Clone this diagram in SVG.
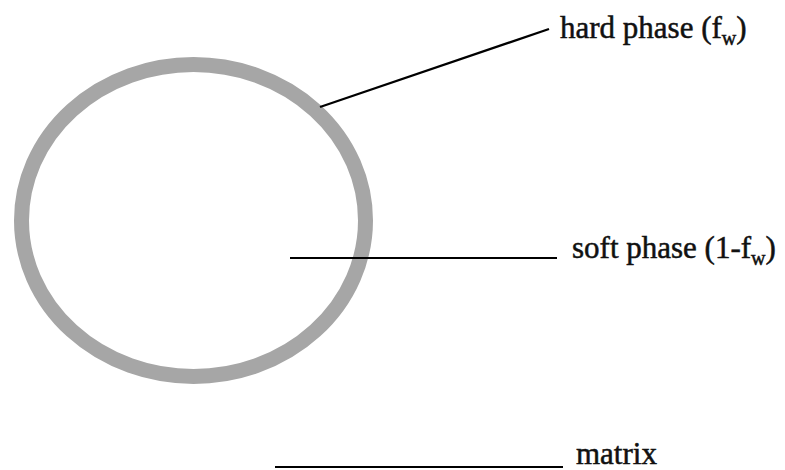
<svg xmlns="http://www.w3.org/2000/svg" width="785" height="470" viewBox="0 0 785 470">
<style>
.lbl{font-family:"Liberation Serif","Times New Roman",serif;font-size:31px;fill:#111;stroke:#111;stroke-width:0.5}
.sub{font-size:20px}
.ld{stroke:#000;stroke-width:2.2;fill:none}
</style>
<rect width="785" height="470" fill="#fff"/>
<g id="particle">
<ellipse cx="193.5" cy="220.5" rx="172" ry="156" fill="none" stroke="#a6a6a6" stroke-width="15"/>
</g>
<g id="connectors">
<line class="ld" x1="320" y1="107" x2="549" y2="29"/>
<line class="ld" x1="290" y1="258" x2="557" y2="258"/>
<line class="ld" x1="275" y1="467" x2="563" y2="467"/>
</g>
<g id="hard-phase">
<text class="lbl" x="560" y="38">hard phase (f<tspan class="sub" dy="7">w</tspan><tspan dy="-7">)</tspan></text>
</g>
<g id="soft-phase">
<text class="lbl" x="572" y="258">soft phase (1-f<tspan class="sub" dy="7">w</tspan><tspan dy="-7">)</tspan></text>
</g>
<g id="matrix">
<text class="lbl" x="576" y="464">matrix</text>
</g>
</svg>
